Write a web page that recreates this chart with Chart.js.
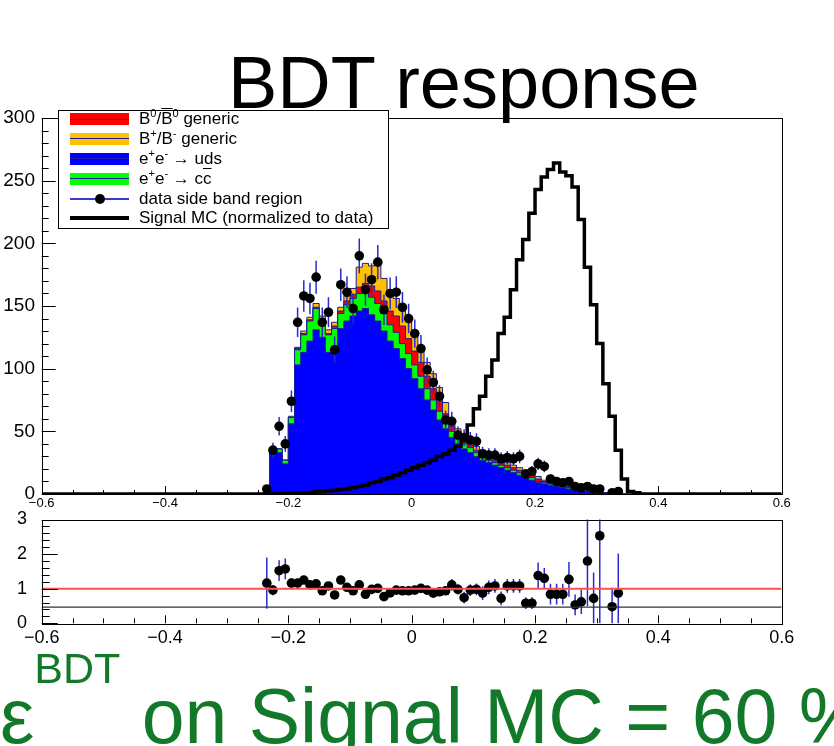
<!DOCTYPE html>
<html>
<head>
<meta charset="utf-8">
<title>BDT response</title>
<script src="https://cdn.jsdelivr.net/npm/chart.js@4"></script>
<style>
  html, body { margin: 0; padding: 0; background: #fff; }
  body { width: 834px; height: 746px; position: relative; overflow: hidden;
         font-family: "Liberation Sans", Arial, sans-serif; }
  canvas { position: absolute; left: 0; top: 0; }
  #title { position: absolute; left: 228px; top: 46px; font-size: 74px; line-height: 1;
           white-space: nowrap; color: #000; }
  #legend { position: absolute; left: 58px; top: 110px; width: 329px; height: 117px;
            border: 1px solid #000; background: #fff; }
  .row { position: absolute; left: 0; width: 100%; height: 20px; }
  .sw { position: absolute; left: 11px; top: 4px; width: 59px; height: 12px; }
  .sw::after { content: ""; position: absolute; left: 0; right: 0; top: 5.5px; height: 1px; background: #1c1c9c; }
  .lbl { position: absolute; left: 80px; top: 0; font-size: 17px; line-height: 20px; white-space: nowrap; }
  .sup { position: relative; top: -7px; font-size: 11px; }
  .bar { text-decoration: overline; }
  #eff { position: absolute; left: 0; top: 678px; font-size: 77px; line-height: 1;
         white-space: nowrap; color: #12792a; }
  #eff .esup { position: relative; top: -60px; font-size: 43px; }
</style>
</head>
<body>
<canvas id="main" width="834" height="746"></canvas>
<canvas id="ratio" width="834" height="746"></canvas>

<div id="title">BDT response</div>

<div id="legend">
  <div class="row" style="top:-2px"><div class="sw" style="background:#ff0000"></div>
    <div class="lbl">B<span class="sup">0</span>/<span class="bar">B</span><span class="sup">0</span> generic</div></div>
  <div class="row" style="top:17.5px"><div class="sw" style="background:#ffc000"></div>
    <div class="lbl">B<span class="sup">+</span>/B<span class="sup">-</span> generic</div></div>
  <div class="row" style="top:37.5px"><div class="sw" style="background:#0000ff"></div>
    <div class="lbl">e<span class="sup">+</span>e<span class="sup">-</span> &rarr; uds</div></div>
  <div class="row" style="top:57.5px"><div class="sw" style="background:#00ff00"></div>
    <div class="lbl">e<span class="sup">+</span>e<span class="sup">-</span> &rarr; c<span class="bar">c</span></div></div>
  <div class="row" style="top:78px">
    <div style="position:absolute;left:11px;top:9px;width:59px;height:1.5px;background:#3a3acc"></div>
    <div style="position:absolute;left:35.5px;top:5px;width:10px;height:10px;border-radius:50%;background:#000"></div>
    <div class="lbl">data side band region</div></div>
  <div class="row" style="top:97px">
    <div style="position:absolute;left:11px;top:8px;width:59px;height:4px;background:#000"></div>
    <div class="lbl">Signal MC (normalized to data)</div></div>
</div>

<div id="eff">&epsilon;<span class="esup">BDT</span> on Signal MC = 60 %</div>

<script>
// histogram binning: 61 bins of 0.01 starting at -0.24
const BIN_LO = -0.24;
const BIN_W = 0.01;

// stacked MC components (events per bin)
const uds = [3,34,33,24,56,103,113,122,131,125, 113,118,132,138,142,146,148,143,138,130,
  122,116,108,100,92,84,75,67,59,52, 45,40,36,33,30,27,25,23,21,19,
  17,15,13,11,9,8,7,6,5,4, 3,2,2,1,1,1,1,1,0,0, 0];
const ccbar = [0,3,3,3,5,12,14,16,17,14, 14,14,12,13,14,14,13,14,14,14,
  13,13,12,12,11,10,9,8,7,6, 5,4,4,4,3,3,2,2,2,2,
  2,2,2,2,1,1,1,1,1,1, 0,0,0,0,0,0,0,0,0,0, 0];
const bzero = [0,0,0,0,0,1,1,1,1,1, 1,2,2,3,3,5,7,9,10,10,
  11,13,14,12,11,11,10,9,8,6, 4,3,3,2,2,2,2,2,2,2,
  2,2,2,2,2,1,1,1,1,0, 0,0,0,0,0,0,0,0,0,0, 0];
const bplus = [0,0,0,0,1,1,2,2,3,2, 3,3,3,4,5,16,16,16,22,18,
  16,14,14,14,13,12,11,12,11,9, 6,5,4,4,3,3,2,2,2,2,
  2,2,2,2,2,1,1,1,1,1, 0,0,0,0,0,0,0,0,0,0, 0];

// data side band counts (null = empty bin)
const dataSB = [4,35,54,40,74,137,158,156,173,137, 145,115,167,161,148,190,163,171,185,147,
  160,161,149,140,128,116,99,89,78,59, 58,47,45,43,42,32,31,31,28,29,
  28,30,16,18,24,22,12,10,9,10, 6,5,6,4,4,null,1,2,null,null, null];

// signal MC normalized to data
const signalMC = [0,0,0,0.2,0.3,0.5,0.8,1,1.5,2, 2.5,3,3.5,4,5,6,7,9,10,12,
  13,15,17,19,21,23,25,27,30,32, 35,38,43,55,68,78,94,107,128,141,
  163,187,203,224,243,253,259,264,257,254, 245,219,181,151,120,88,62,35,12,2, 1];

// data / MC ratio and its error
const ratio = [1.16,0.96,1.52,1.57,1.16,1.16,1.25,1.11,1.14,0.94, 1.08,0.82,1.25,1.04,0.94,1.11,0.84,0.98,1.01,0.77,
  0.88,0.96,0.94,0.94,0.96,1.01,0.96,0.87,0.91,0.94, 1.11,0.98,0.74,0.96,0.98,0.87,1.04,1.08,0.72,1.08,
  1.08,1.08,0.58,0.58,1.38,1.30,0.84,0.84,0.84,1.27, 0.53,0.62,1.80,0.72,2.53,null,0.48,0.87,null,null, null];
const ratioErr = [0.74,0.15,0.3,0.3,0.15,0.1,0.1,0.1,0.1,0.1, 0.1,0.1,0.1,0.1,0.1,0.1,0.1,0.1,0.1,0.1,
  0.1,0.1,0.1,0.1,0.1,0.1,0.1,0.1,0.1,0.1, 0.17,0.15,0.17,0.17,0.17,0.2,0.2,0.2,0.2,0.2,
  0.2,0.2,0.17,0.17,0.38,0.3,0.3,0.3,0.3,0.5, 0.3,0.35,1.3,0.75,2.6,null,0.55,1.15,null,null, null];

const ratioRef = 1;
const ratioLow = 0.47;

// tick labels
const xTicks = [-0.6, -0.4, -0.2, 0, 0.2, 0.4, 0.6];
const yTicksMain = [0, 50, 100, 150, 200, 250, 300];
const yTicksRatio = [0, 1, 2, 3];

const FONT = '"Liberation Sans", Arial, sans-serif';
const r3 = v => Math.round(v * 1000) / 1000;
const edge = i => r3(BIN_LO + i * BIN_W);
const center = i => r3(BIN_LO + (i + 0.5) * BIN_W);
const fmt = v => (v < 0 ? '\u2212' + Math.abs(v) : String(v));

// cumulative stack: uds, +cc, +B0, +B+
const cum1 = uds.map((v, i) => v + ccbar[i]);
const cum2 = cum1.map((v, i) => v + bzero[i]);
const cum3 = cum2.map((v, i) => v + bplus[i]);

function stepPoints(vals, padFull) {
  const pts = [];
  if (padFull) pts.push({x: -0.6, y: 0});
  pts.push({x: edge(0), y: 0});
  vals.forEach((v, i) => pts.push({x: edge(i), y: v}));
  pts.push({x: edge(vals.length), y: vals[vals.length - 1]});
  pts.push({x: edge(vals.length), y: 0});
  if (padFull) pts.push({x: 0.6, y: 0});
  return pts;
}

function histLayer(vals, color, order) {
  return { type: 'line', data: stepPoints(vals, false), stepped: true, fill: 'origin',
    backgroundColor: color, borderColor: '#1c1c9c', borderWidth: 1, pointRadius: 0, order };
}

const dataPts = [], dataErr = [];
dataSB.forEach((v, i) => { if (v !== null) { dataPts.push({x: center(i), y: v}); dataErr.push(Math.sqrt(v)); } });
const ratioPts = [], ratioE = [];
ratio.forEach((v, i) => { if (v !== null) { ratioPts.push({x: center(i), y: v}); ratioE.push(ratioErr[i]); } });

// vertical error bars under the markers
const errorBars = {
  id: 'errorBars',
  beforeDatasetDraw(chart, args) {
    const ds = chart.data.datasets[args.index];
    if (!ds.errors) return;
    const {ctx, chartArea: a, scales: {x, y}} = chart;
    ctx.save();
    ctx.beginPath();
    ctx.rect(a.left, a.top, a.right - a.left, a.bottom - a.top);
    ctx.clip();
    ctx.strokeStyle = '#2a2acc';
    ctx.lineWidth = 1.5;
    ds.data.forEach((p, i) => {
      const px = x.getPixelForValue(p.x);
      ctx.beginPath();
      ctx.moveTo(px, y.getPixelForValue(p.y - ds.errors[i]));
      ctx.lineTo(px, y.getPixelForValue(p.y + ds.errors[i]));
      ctx.stroke();
    });
    ctx.restore();
  }
};

// ROOT style frame with inward ticks
function drawTicks(chart, o, axis) {
  const {ctx, chartArea: a, scales} = chart;
  const sc = scales[axis];
  ctx.save();
  ctx.strokeStyle = '#000';
  ctx.lineWidth = 1;
  const n = Math.round((sc.max - sc.min) / o[axis + 'Minor']);
  for (let k = 0; k <= n; k++) {
    const v = sc.min + k * o[axis + 'Minor'];
    const q = v / o[axis + 'Major'];
    const major = Math.abs(q - Math.round(q)) < 1e-6;
    const len = major ? o[axis + 'MajLen'] : o[axis + 'MinLen'];
    const p = Math.round(sc.getPixelForValue(v)) + 0.5;
    ctx.beginPath();
    if (axis === 'x') { ctx.moveTo(p, a.bottom); ctx.lineTo(p, a.bottom - len); }
    else { ctx.moveTo(a.left, p); ctx.lineTo(a.left + len, p); }
    ctx.stroke();
  }
  ctx.restore();
}
const rootAxes = {
  id: 'rootAxes',
  beforeDatasetsDraw(chart, args, o) { drawTicks(chart, o, 'x'); },
  afterDatasetsDraw(chart, args, o) {
    drawTicks(chart, o, 'y');
    const {ctx, chartArea: a} = chart;
    ctx.save();
    ctx.strokeStyle = '#000';
    ctx.lineWidth = 1;
    ctx.strokeRect(Math.round(a.left) + 0.5, Math.round(a.top) + 0.5,
      Math.round(a.right - a.left), Math.round(a.bottom - a.top));
    ctx.restore();
  }
};

function axisX(fontSize, pad, height) {
  return { type: 'linear', min: -0.6, max: 0.6,
    grid: { display: false, drawTicks: false }, border: { display: false },
    afterBuildTicks: s => { s.ticks = xTicks.map(v => ({value: v})); },
    afterFit: s => { s.height = height; },
    ticks: { color: '#000', font: { family: FONT, size: fontSize }, padding: pad,
      maxRotation: 0, autoSkip: false, callback: v => fmt(v) } };
}
function axisY(ticks, max, fontSize, pad) {
  return { type: 'linear', min: 0, max: max,
    grid: { display: false, drawTicks: false }, border: { display: false },
    afterBuildTicks: s => { s.ticks = ticks.map(v => ({value: v})); },
    afterFit: s => { s.width = 41.7; },
    ticks: { color: '#000', font: { family: FONT, size: fontSize }, padding: pad,
      autoSkip: false, callback: v => fmt(v) } };
}

new Chart(document.getElementById('main'), {
  type: 'line',
  data: { datasets: [
    { type: 'scatter', label: 'data', data: dataPts, errors: dataErr, pointRadius: 4.8,
      pointBackgroundColor: '#000', pointBorderWidth: 0, showLine: false, order: 0 },
    { type: 'line', label: 'signal', data: stepPoints(signalMC, true), stepped: true, fill: false,
      borderColor: '#000', borderWidth: 3.5, pointRadius: 0, order: 1 },
    histLayer(uds, '#0000ff', 2),
    histLayer(cum1, '#00ff00', 3),
    histLayer(cum2, '#ff0000', 4),
    histLayer(cum3, '#ffc000', 5)
  ]},
  options: {
    responsive: false, animation: false, devicePixelRatio: 1,
    layout: { padding: { left: 0, right: 52.3, top: 118, bottom: 232 } },
    plugins: { legend: { display: false }, tooltip: { enabled: false },
      rootAxes: { xMajor: 0.2, xMinor: 0.05, xMajLen: 8, xMinLen: 4,
                  yMajor: 50, yMinor: 10, yMajLen: 14, yMinLen: 7 } },
    scales: { x: axisX(13, 2, 20), y: axisY(yTicksMain, 300, 19, 6.7) }
  },
  plugins: [errorBars, rootAxes]
});

new Chart(document.getElementById('ratio'), {
  type: 'line',
  data: { datasets: [
    { type: 'line', data: [{x: -0.6, y: ratioRef}, {x: 0.6, y: ratioRef}], borderColor: '#ff5050',
      borderWidth: 2, pointRadius: 0, fill: false, order: 0 },
    { type: 'line', data: [{x: -0.6, y: ratioLow}, {x: 0.6, y: ratioLow}], borderColor: '#333',
      borderWidth: 1.3, pointRadius: 0, fill: false, order: 1 },
    { type: 'scatter', label: 'ratio', data: ratioPts, errors: ratioE, pointRadius: 4.8,
      pointBackgroundColor: '#000', pointBorderWidth: 0, showLine: false, order: 2 }
  ]},
  options: {
    responsive: false, animation: false, devicePixelRatio: 1,
    layout: { padding: { left: 0, right: 52.3, top: 519.5, bottom: 92.7 } },
    plugins: { legend: { display: false }, tooltip: { enabled: false },
      rootAxes: { xMajor: 0.2, xMinor: 0.05, xMajLen: 8, xMinLen: 5,
                  yMajor: 1, yMinor: 0.2, yMajLen: 16, yMinLen: 8 } },
    scales: { x: axisX(18, 4, 30), y: axisY(yTicksRatio, 3, 18, 14.7) }
  },
  plugins: [errorBars, rootAxes]
});
</script>
</body>
</html>
